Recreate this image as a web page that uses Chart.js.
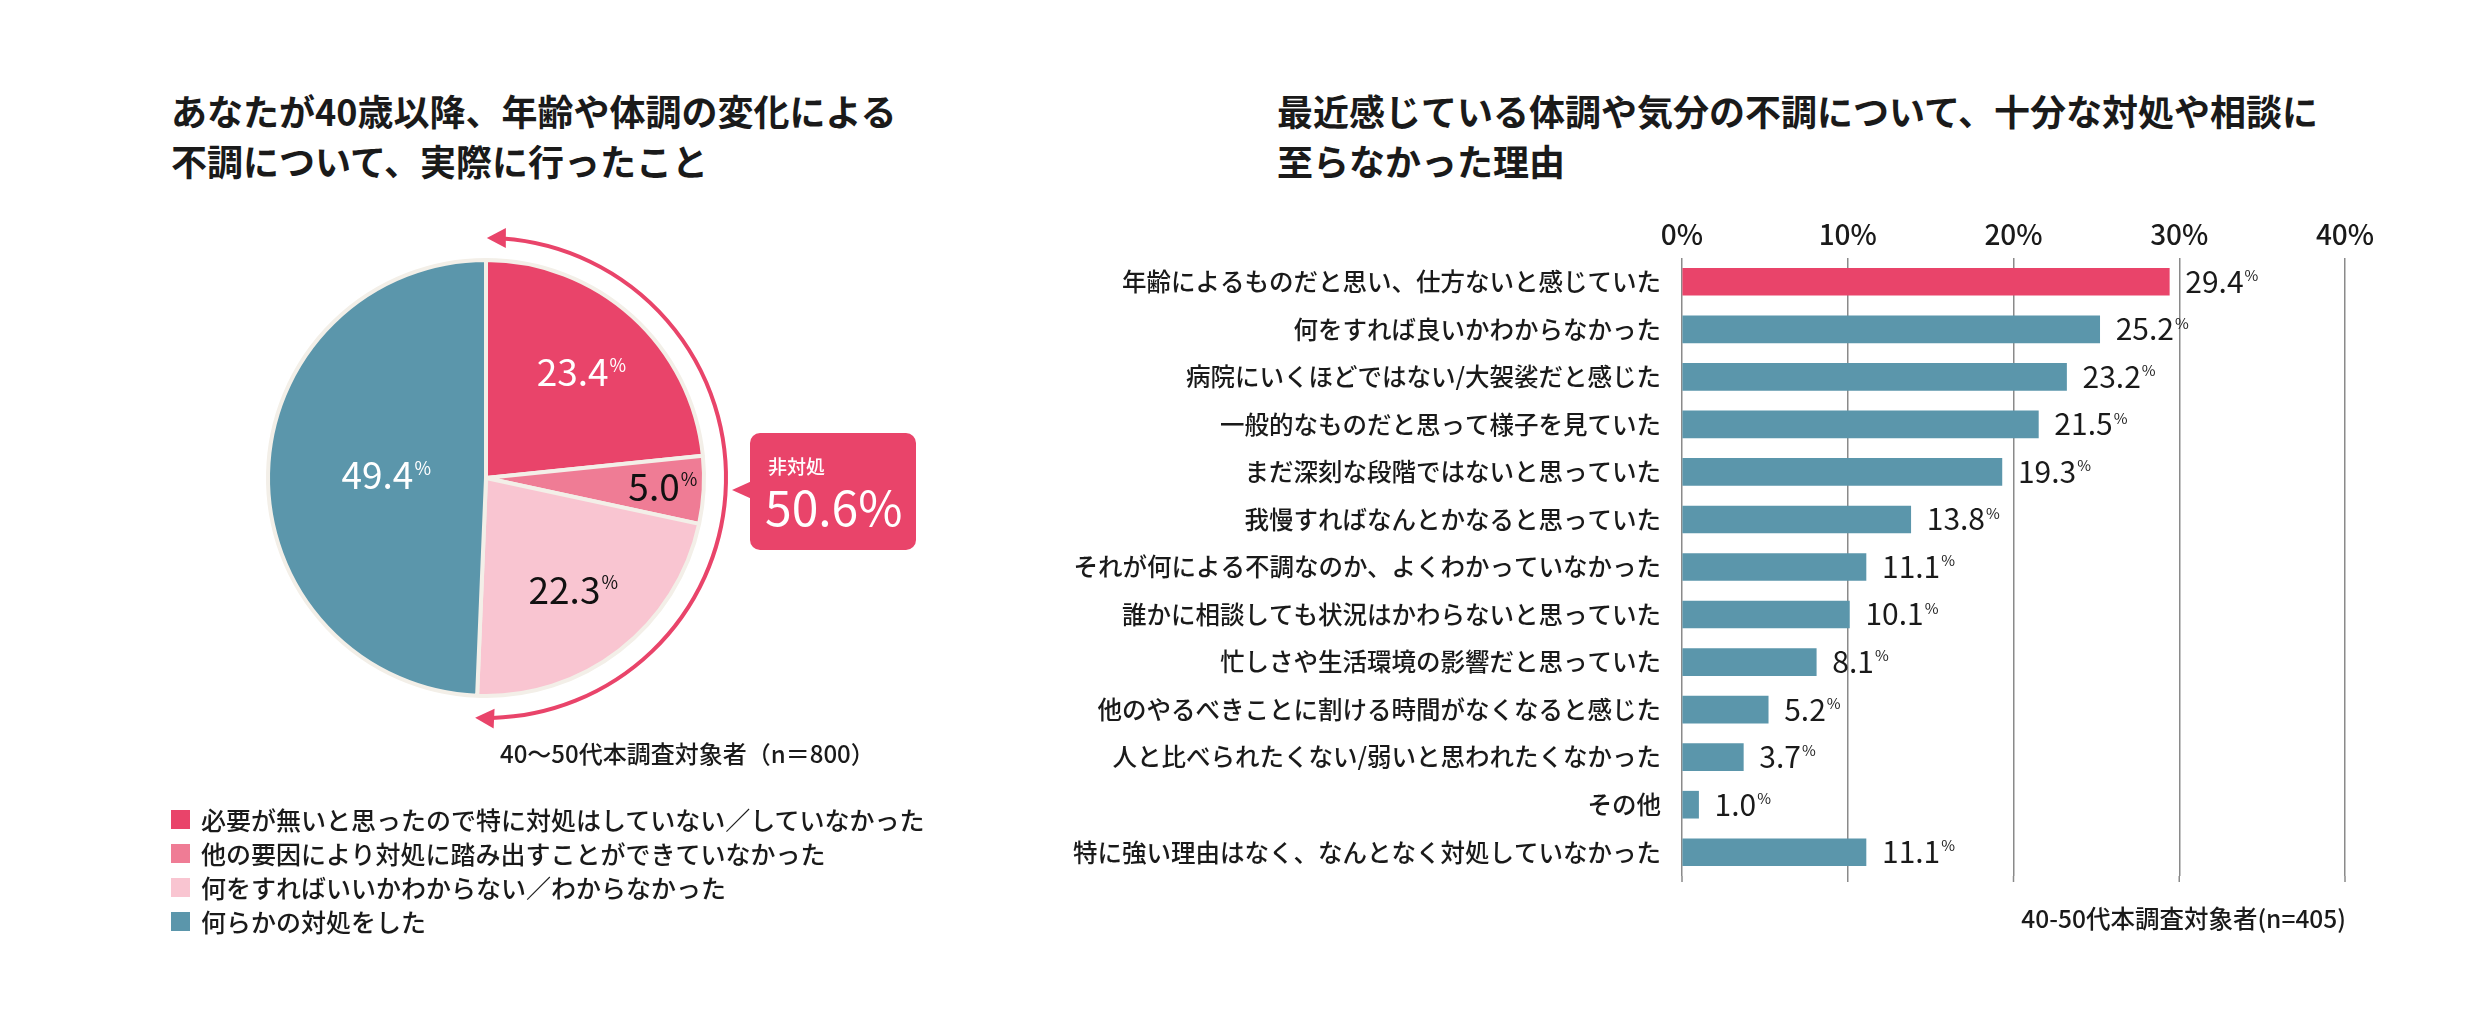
<!DOCTYPE html>
<html lang="ja">
<head>
<meta charset="utf-8">
<script src="https://cdn.jsdelivr.net/npm/chart.js@4.4.1/dist/chart.umd.min.js"></script>
<style>
  body { margin: 0; width: 2481px; height: 1018px; background: #fff; overflow: hidden; position: relative;
         font-family: "Noto Sans CJK JP", "Noto Sans", sans-serif; color: #1a1a1a; }
  .titulo { position: absolute; top: 85px; font-size: 36px; line-height: 50px; font-weight: 700; white-space: nowrap; }
  #nota-pie { position: absolute; left: 500px; top: 737px; font-size: 24px; line-height: 32px; font-weight: 500; }
  #nota-bar { position: absolute; right: 135px; top: 902px; font-size: 24.5px; line-height: 32px; font-weight: 500; }
  #leyenda { position: absolute; left: 171px; top: 802px; font-size: 25px; line-height: 34px; font-weight: 500; }
  #leyenda .fila { display: flex; align-items: center; white-space: nowrap; }
  #leyenda .cuadro { width: 19px; height: 19px; margin-right: 11px; }
  canvas { position: absolute; top: 0; }
</style>
</head>
<body>
<div class="titulo" style="left:171px">あなたが40歳以降、年齢や体調の変化による<br>不調について、実際に行ったこと</div>
<div class="titulo" style="left:1277px">最近感じている体調や気分の不調について、十分な対処や相談に<br>至らなかった理由</div>
<canvas id="pieChart" width="1000" height="1018" style="left:0"></canvas>
<canvas id="barChart" width="1431" height="1018" style="left:1050px"></canvas>
<div id="nota-pie">40〜50代本調査対象者（n＝800）</div>
<div id="leyenda"></div>
<div id="nota-bar">40-50代本調査対象者(n=405)</div>

<script>
// datos del grafico circular
const pieLabels = [
  "必要が無いと思ったので特に対処はしていない／していなかった",
  "他の要因により対処に踏み出すことができていなかった",
  "何をすればいいかわからない／わからなかった",
  "何らかの対処をした"
];
const pieValues = [23.4, 5.0, 22.3, 49.4];
const pieColors = ["#e9446a", "#ef7c95", "#f9c5d1", "#5b96ab"];
const pieTextColors = ["#ffffff", "#111111", "#111111", "#ffffff"];
const calloutTitle = "非対処";
const calloutValue = "50.6%";

// datos del grafico de barras
const barLabels = [
  "年齢によるものだと思い、仕方ないと感じていた",
  "何をすれば良いかわからなかった",
  "病院にいくほどではない/大袈裟だと感じた",
  "一般的なものだと思って様子を見ていた",
  "まだ深刻な段階ではないと思っていた",
  "我慢すればなんとかなると思っていた",
  "それが何による不調なのか、よくわかっていなかった",
  "誰かに相談しても状況はかわらないと思っていた",
  "忙しさや生活環境の影響だと思っていた",
  "他のやるべきことに割ける時間がなくなると感じた",
  "人と比べられたくない/弱いと思われたくなかった",
  "その他",
  "特に強い理由はなく、なんとなく対処していなかった"
];
const barValues = [29.4, 25.2, 23.2, 21.5, 19.3, 13.8, 11.1, 10.1, 8.1, 5.2, 3.7, 1.0, 11.1];
const barColors = barValues.map((v, i) => i == 0 ? "#e9446a" : "#5b96ab");
const xMax = 40;
const xStep = 10;

const FONT = '"Noto Sans CJK JP", "Noto Sans", sans-serif';
const ROJO = "#e9446a";

// numero grande con "%" pequeño arriba
function numeroPct(ctx, txt, x, y, big, small, color, centrado) {
  ctx.save();
  ctx.fillStyle = color;
  ctx.textBaseline = "alphabetic";
  ctx.textAlign = "left";
  ctx.font = `400 ${big}px ${FONT}`;
  const w1 = ctx.measureText(txt).width;
  ctx.font = `400 ${small}px ${FONT}`;
  const w2 = ctx.measureText("%").width;
  const left = centrado ? x - (w1 + w2) / 2 : x;
  const base = y + big * 0.365;
  ctx.font = `400 ${big}px ${FONT}`;
  ctx.fillText(txt, left, base);
  ctx.font = `400 ${small}px ${FONT}`;
  ctx.fillText("%", left + w1 + 1, base - big * 0.73 + small * 0.68);
  ctx.restore();
}

// flecha: punta en angulo c (reloj)
function punta(ctx, cx, cy, r, c, haciaAtras) {
  const tx = cx + r * Math.sin(c), ty = cy - r * Math.cos(c);
  let dx = Math.cos(c), dy = Math.sin(c);
  if (haciaAtras) { dx = -dx; dy = -dy; }
  const bx = tx - dx * 19, by = ty - dy * 19;
  const nx = -dy, ny = dx;
  ctx.beginPath();
  ctx.moveTo(tx, ty);
  ctx.lineTo(bx + nx * 10, by + ny * 10);
  ctx.lineTo(bx - nx * 10, by - ny * 10);
  ctx.closePath();
  ctx.fill();
}

const labelRadio = [0.65, 0.81, 0.65, 0.46];

const pieExtras = {
  id: "pieExtras",
  afterDatasetsDraw(chart) {
    const ctx = chart.ctx;
    const arcs = chart.getDatasetMeta(0).data;
    const cx = arcs[0].x, cy = arcs[0].y, R = arcs[0].outerRadius;

    arcs.forEach((arc, i) => {
      const mid = (arc.startAngle + arc.endAngle) / 2;
      const d = R * labelRadio[i];
      numeroPct(ctx, pieValues[i].toFixed(1), cx + Math.cos(mid) * d, cy + Math.sin(mid) * d, 37, 18, pieTextColors[i], true);
    });

    // arco con flechas
    const r = R + 22;
    const g = Math.PI / 180;
    ctx.save();
    ctx.strokeStyle = ROJO;
    ctx.fillStyle = ROJO;
    ctx.lineWidth = 4;
    ctx.beginPath();
    ctx.arc(cx, cy, r, (4 - 90) * g, (178.5 - 90) * g);
    ctx.stroke();
    punta(ctx, cx, cy, r, 0.2 * g, true);
    punta(ctx, cx, cy, r, 182.6 * g, false);

    // cuadro "非対処"
    const bx = cx + R + 46, by = cy - 45, bw = 166, bh = 117;
    ctx.beginPath();
    ctx.roundRect(bx, by, bw, bh, 10);
    ctx.fill();
    ctx.beginPath();
    ctx.moveTo(bx + 2, cy + 3);
    ctx.lineTo(bx - 18, cy + 12);
    ctx.lineTo(bx + 2, cy + 21);
    ctx.closePath();
    ctx.fill();
    ctx.fillStyle = "#ffffff";
    ctx.textAlign = "left";
    ctx.textBaseline = "middle";
    ctx.font = `500 19px ${FONT}`;
    ctx.fillText(calloutTitle, bx + 18, cy - 11);
    ctx.font = `400 48px ${FONT}`;
    ctx.textBaseline = "alphabetic";
    ctx.fillText(calloutValue, bx + 15, cy + 48);
    ctx.restore();
  }
};

new Chart(document.getElementById("pieChart"), {
  type: "pie",
  data: {
    labels: pieLabels,
    datasets: [{
      data: pieValues,
      backgroundColor: pieColors,
      borderColor: "#f3efe8",
      borderWidth: 4
    }]
  },
  options: {
    responsive: false,
    animation: false,
    layout: { padding: { left: 266, top: 258, right: 294, bottom: 320 } },
    plugins: { legend: { display: false }, tooltip: { enabled: false } }
  },
  plugins: [pieExtras]
});

// leyenda
let html = "";
pieLabels.forEach((l, i) => {
  html += `<div class="fila"><span class="cuadro" style="background:${pieColors[i]}"></span>${l}</div>`;
});
document.getElementById("leyenda").innerHTML = html;

// etiquetas de valor y lineas extendidas
const barExtras = {
  id: "barExtras",
  afterDraw(chart) {
    const ctx = chart.ctx;
    const xs = chart.scales.x;
    const area = chart.chartArea;
    ctx.save();
    ctx.strokeStyle = "#8a8a8a";
    ctx.lineWidth = 1.5;
    xs.ticks.forEach(t => {
      const px = xs.getPixelForValue(t.value);
      ctx.beginPath();
      ctx.moveTo(px, area.bottom);
      ctx.lineTo(px, area.bottom + 6);
      ctx.stroke();
    });
    ctx.restore();
    chart.getDatasetMeta(0).data.forEach((bar, i) => {
      numeroPct(ctx, barValues[i].toFixed(1), bar.x + 16, bar.y, 30, 15, "#1a1a1a", false);
    });
  }
};

new Chart(document.getElementById("barChart"), {
  type: "bar",
  data: {
    labels: barLabels,
    datasets: [{
      data: barValues,
      backgroundColor: barColors,
      barThickness: 27
    }]
  },
  options: {
    indexAxis: "y",
    responsive: false,
    animation: false,
    layout: { padding: { left: 0, top: 0, right: 136, bottom: 142 } },
    plugins: { legend: { display: false }, tooltip: { enabled: false } },
    scales: {
      x: {
        position: "top",
        min: 0,
        max: xMax,
        afterFit: s => { s.height = 258; },
        ticks: {
          stepSize: xStep,
          padding: 7,
          color: "#1a1a1a",
          font: { family: FONT, size: 28, weight: 500 },
          callback: v => v + "%"
        },
        grid: { color: "#8a8a8a", lineWidth: 1.5, drawTicks: false },
        border: { display: false }
      },
      y: {
        afterFit: s => { s.width = 632; },
        ticks: {
          padding: 21,
          color: "#1a1a1a",
          font: { family: FONT, size: 24.5, weight: 500 }
        },
        grid: { display: false, drawTicks: false },
        border: { display: false }
      }
    }
  },
  plugins: [barExtras]
});
</script>
</body>
</html>
